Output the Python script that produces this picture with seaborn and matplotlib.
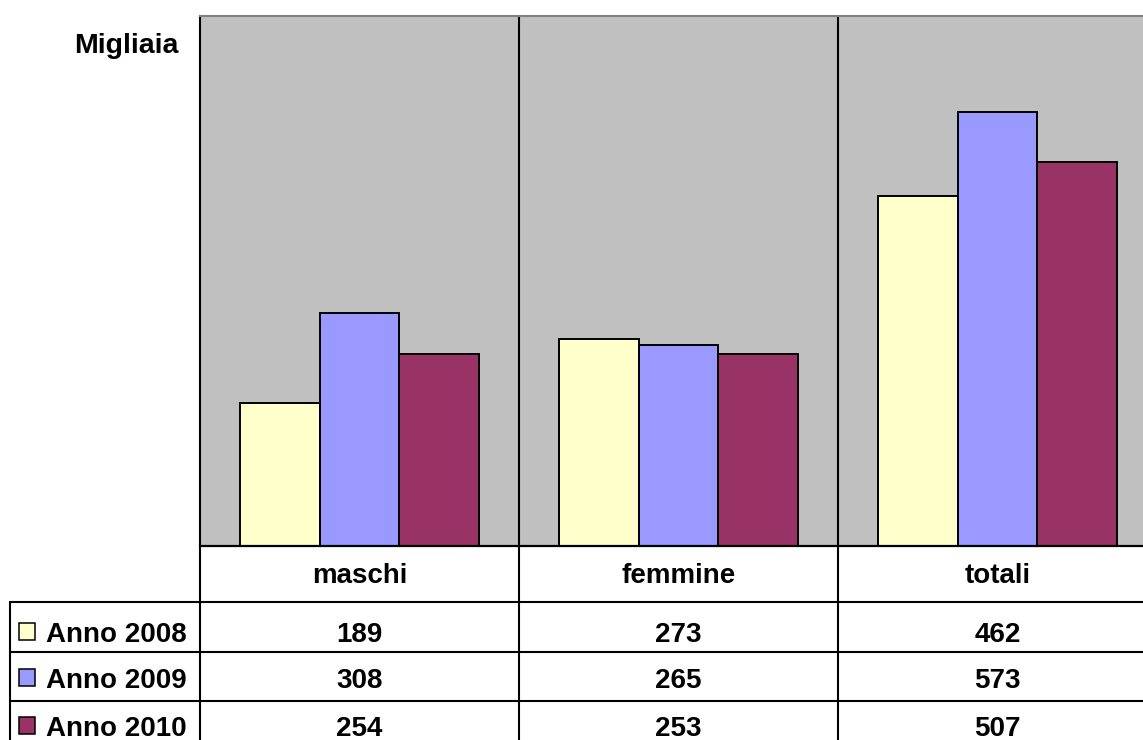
import pandas as pd
import matplotlib.pyplot as plt
import seaborn as sns
from matplotlib.patches import Rectangle

categories = ['maschi', 'femmine', 'totali']
series = ['Anno 2008', 'Anno 2009', 'Anno 2010']
anno_2008 = [189, 273, 462]
anno_2009 = [308, 265, 573]
anno_2010 = [254, 253, 507]
colors = ['#FFFFCC', '#9999FF', '#993366']

df = pd.DataFrame({
    'categoria': categories * 3,
    'serie': [s for s in series for _ in categories],
    'valore': anno_2008 + anno_2009 + anno_2010,
})

sns.set_theme(style='white')
plt.rcParams['font.family'] = ['Liberation Sans', 'DejaVu Sans']
plt.rcParams['text.color'] = 'black'

W, H = 1143, 740
fig = plt.figure(figsize=(W / 100, H / 100), dpi=100)

# plot area in pixels
left, top, bottom = 200, 16, 546
colw = 319
ax = fig.add_axes([left / W, (H - bottom) / H, 3 * colw / W, (bottom - top) / H])
sns.barplot(data=df, x='categoria', y='valore', hue='serie', order=categories,
            hue_order=series, palette=colors, width=0.75, edgecolor='black',
            linewidth=1.4, saturation=1, legend=False, ax=ax)
ax.set_facecolor('#C0C0C0')
ax.set_xlim(-0.5, 2.5)
ax.set_ylim(0, 700)
ax.set_xticks([])
ax.set_yticks([])
ax.set_xlabel('')
ax.set_ylabel('')
for x in [0.5, 1.5]:
    ax.axvline(x, color='black', lw=1.5, zorder=0.5)
ax.spines['left'].set_color('black')
ax.spines['left'].set_linewidth(1.5)
ax.spines['bottom'].set_color('black')
ax.spines['bottom'].set_linewidth(1.6)
ax.spines['top'].set_color('#808080')
ax.spines['top'].set_linewidth(1.5)
ax.spines['right'].set_visible(False)

# overlay in pixel coordinates for the data table
ov = fig.add_axes([0, 0, 1, 1])
ov.set_xlim(0, W)
ov.set_ylim(H, 0)
ov.axis('off')

ov.text(178, 53, 'Migliaia', ha='right', va='baseline', fontsize=20.5, fontweight='bold')

row_lines = [602, 652, 701]
for y in row_lines:
    ov.plot([10, W], [y, y], color='black', lw=1.5)
ov.plot([10, 10], [602, H], color='black', lw=1.5)
for i in range(3):
    x = left + colw * i
    ov.plot([x, x], [bottom, H], color='black', lw=1.5)

for i, c in enumerate(categories):
    ov.text(left + colw * (i + 0.5), 583, c, ha='center', va='baseline',
            fontsize=20, fontweight='bold')

values = [anno_2008, anno_2009, anno_2010]
baselines = [642, 688, 736]
for name, vals, col, yb in zip(series, values, colors, baselines):
    ov.add_patch(Rectangle((18.5, yb - 19), 16, 17, facecolor=col, edgecolor='black', lw=1.1))
    ov.text(46, yb, name, ha='left', va='baseline', fontsize=20, fontweight='bold')
    for i, v in enumerate(vals):
        ov.text(left + colw * (i + 0.5), yb, str(v), ha='center', va='baseline',
                fontsize=20, fontweight='bold')

plt.savefig('out.png', dpi=100)
